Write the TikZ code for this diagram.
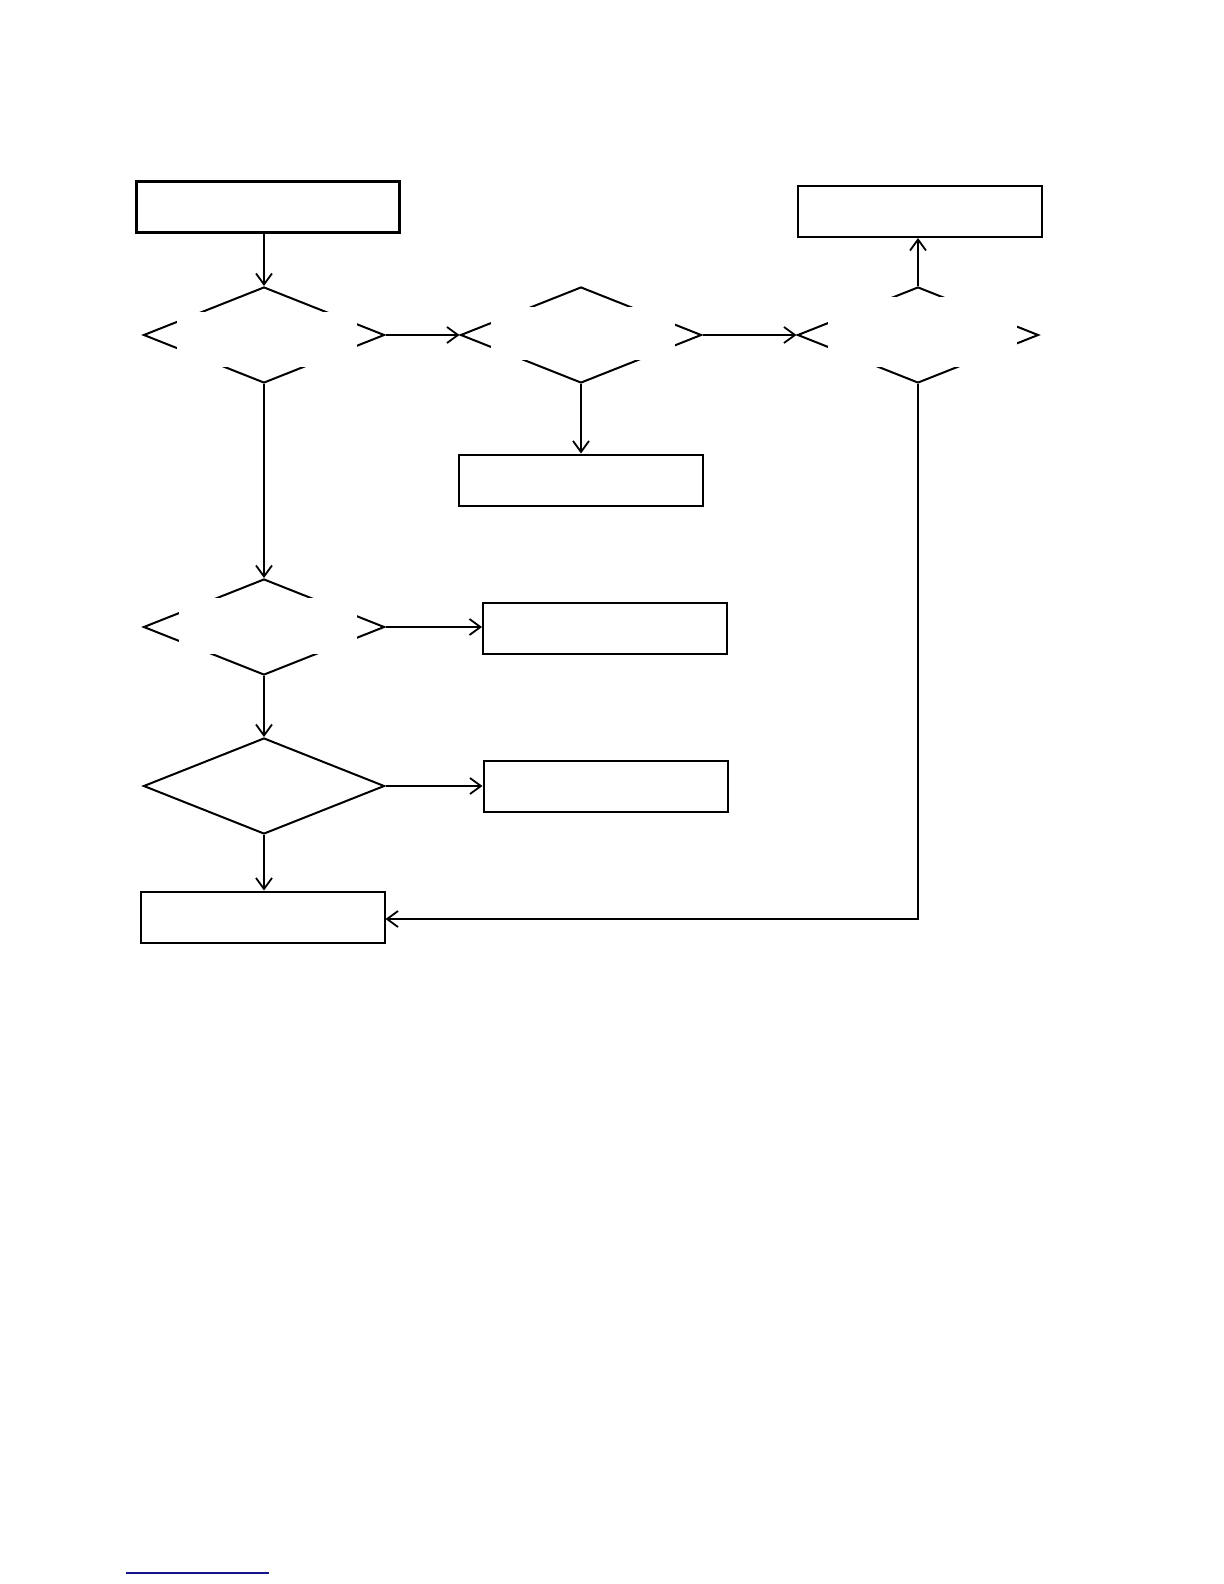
\documentclass[tikz,border=0pt]{standalone}
\usepackage{tikz}
\usetikzlibrary{arrows.meta, positioning, shapes.geometric}
\definecolor{rulenavy}{RGB}{20,20,140}
\tikzset{
  box/.style={rectangle, draw=black, fill=white, line width=1pt,
              minimum width=122pt, minimum height=25.5pt, inner sep=0pt},
  startbox/.style={box, line width=1.5pt, minimum width=131.5pt},
  decision/.style={diamond, draw=black, line width=1pt,
                   minimum width=120.5pt, minimum height=48pt, inner sep=0pt},
  mask/.style={rectangle, fill=white, inner sep=0pt},
  arr/.style={-{Straight Barb[length=5.5pt,width=8pt]}, line width=0.9pt},
}

\begin{document}
\begin{tikzpicture}[x=0.5pt, y=-0.5pt]
  \useasboundingbox (0,0) rectangle (1224,1584);

  \node[startbox]  (start) at (267.5,206.5) {};
  \node[box]       (done)  at (920,211.5)   {};
  \node[decision]  (d1)    at (264,335)     {};
  \node[decision]  (d2)    at (581,335)     {};
  \node[decision]  (d3)    at (918,335)     {};
  \node[box]       (mid)   at (580.5,480)   {};
  \node[decision]  (d4)    at (264,627)     {};
  \node[box]       (b4)    at (605,628.5)   {};
  \node[decision]  (d5)    at (264,786)     {};
  \node[box]       (b5)    at (605.5,786)   {};
  \node[box]       (fin)   at (262.5,917)   {};

  % blank text areas over the decisions
  \node[mask, minimum width=90pt, minimum height=27.5pt] (m1) at (267,339.5) {};
  \node[mask, minimum width=92pt, minimum height=26.5pt] (m2) at (583,333.5) {};
  \node[mask, minimum width=94.5pt, minimum height=35pt] (m3) at (922.5,332) {};
  \node[mask, minimum width=89pt, minimum height=28pt]   (m4) at (268,626) {};

  \draw[arr] (start.south -| d1.north) -- (d1.north);
  \draw[arr] (d1.east)  -- (d2.west);
  \draw[arr] (d2.east)  -- (d3.west);
  \draw[arr] (d3.north) -- (d3.north |- done.south);
  \draw[arr] (d2.south) -- (d2.south |- mid.north);
  \draw[arr] (d1.south) -- (d4.north);
  \draw[arr] (d4.east)  -- (d4.east -| b4.west);
  \draw[arr] (d4.south) -- (d5.north);
  \draw[arr] (d5.east)  -- (b5.west);
  \draw[arr] (d5.south) -- (d5.south |- fin.north);
  \draw[arr] (d3.south) |- ([yshift=-1pt]fin.east);

  \draw[rulenavy, line width=0.75pt] (126,1573) -- (269,1573);
\end{tikzpicture}
\end{document}
